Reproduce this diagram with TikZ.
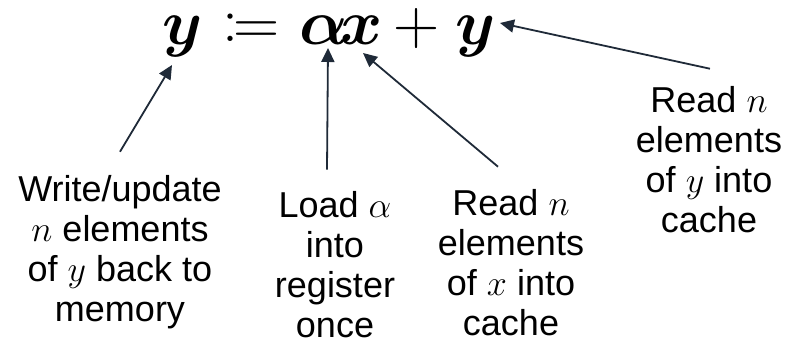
\RequirePackage{fix-cm}
\documentclass[tikz,border=0pt]{standalone}
\usepackage{amsmath,bm,mathtools}
\usepackage{fontspec}
\setmainfont{Liberation Sans}
\usetikzlibrary{arrows.meta}
\definecolor{arrowc}{HTML}{1F2A38}
\tikzset{
  arr/.style={draw=arrowc, line width=1.8pt, -{Triangle[length=14pt,width=13pt]}},
  glyph/.style={anchor=base, inner sep=0pt, font=\fontsize{64}{70}\selectfont},
  lbl/.style={anchor=base, inner sep=0pt, align=center, font=\fontsize{36}{40}\selectfont}
}
\begin{document}
\begin{tikzpicture}[x=1pt,y=-1pt]
\useasboundingbox (0,0) rectangle (788,354);
% formula
\node[glyph] (y1) at (183,44) {$\bm{y}$};
\node[glyph] (as) at (251,44) {$\coloneqq$};
\node[glyph] (al) at (324,44) {$\bm{\alpha}$};
\node[glyph] (xx) at (362,44) {$\bm{x}$};
\node[glyph] (pl) at (417,44) {$+$};
\node[glyph] (y2) at (476,44) {$\bm{y}$};
% labels (anchor base = baseline of last line)
\node[lbl] (l1) at (120,321) {Write/update\\$n$ elements\\of $y$ back to\\memory};
\node[lbl] (l2) at (335,337) {Load $\alpha$\\into\\register\\once};
\node[lbl] (l3) at (511,335) {Read $n$\\elements\\of $x$ into\\cache};
\node[lbl] (l4) at (709,232) {Read $n$\\elements\\of $y$ into\\cache};
% arrows
\draw[arr] ([yshift=23pt]l1.north) -- ([xshift=-11pt,yshift=-21pt]y1.base);
\draw[arr] ([xshift=-8pt,yshift=21pt]l2.north) -- ([xshift=4pt,yshift=-4pt]al.base);
\draw[arr] ([xshift=-13pt,yshift=22pt]l3.north) -- ([xshift=1pt,yshift=-9pt]xx.base);
\draw[arr] ([xshift=1pt,yshift=17pt]l4.north) -- ([xshift=24pt,yshift=21pt]y2.base);
\end{tikzpicture}
\end{document}
